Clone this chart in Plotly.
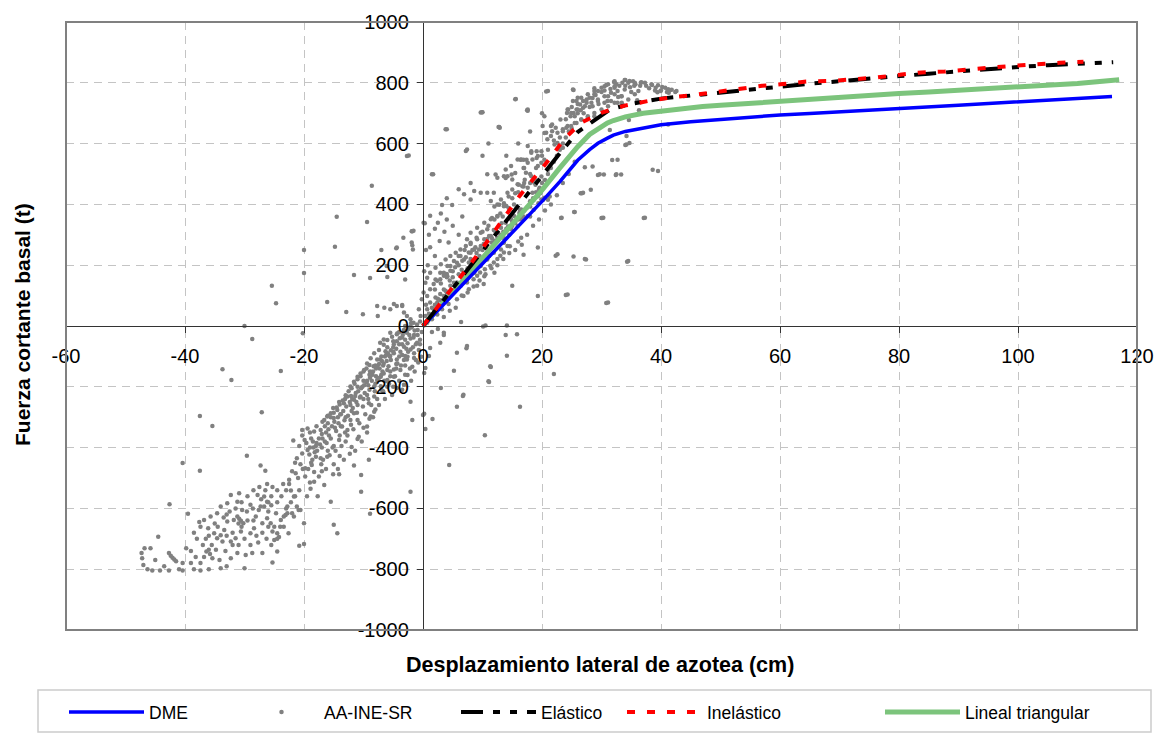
import plotly.graph_objects as go

# ---------------- data ----------------
dme_x = [0, 5, 10, 15, 20, 23, 26, 28, 29.4, 31, 32, 34, 37, 40, 45, 50, 55, 60, 65, 70, 75, 80, 85, 90, 95, 100, 105, 110, 115.8]
dme_y = [0, 102, 205, 308, 410, 475, 545, 580, 601, 618, 628, 640, 652, 662, 672, 680, 687, 694, 699, 704, 710, 716, 721, 726, 732, 738, 743, 748, 755]

lt_x = [0, 5, 10, 15, 20, 23, 26, 28, 29.4, 31, 32, 34, 37, 40, 45, 47, 50, 55, 60, 65, 70, 75, 80, 85, 90, 95, 100, 105, 110, 117]
lt_y = [0, 111, 222, 335, 447, 520, 590, 630, 650, 668, 676, 688, 700, 707, 716, 722, 726, 733, 740, 746, 752, 758, 765, 770, 775, 780, 785, 791, 798, 810]

el_x = [0, 5, 10, 15, 18.5, 20, 23, 26, 29.1, 31.4, 34.6, 38.3, 40, 45, 50, 55, 60, 65, 70, 75, 80, 85, 90, 95, 100, 105, 110, 116]
el_y = [0, 124, 248, 372, 458, 495, 568, 638, 680, 712, 729, 740, 748, 758, 768, 779, 788, 797, 805, 812, 822, 830, 838, 846, 852, 858, 863, 868]

in_x = [0, 5, 10, 16.2, 21.2, 23.7, 26.5, 30.2, 33.9, 37.8, 41.7, 45.6, 49.5, 53.1, 57, 60.5, 64.4, 68.6, 72.4, 76.1, 79.8, 83.8, 87.7, 91.5, 95.4, 99.3, 103.2, 107, 111]
in_y = [0, 128, 256, 427, 548, 614, 668, 703, 725, 740, 752, 760, 770, 782, 790, 796, 804, 806, 811, 817, 826, 834, 837, 842, 850, 856, 862, 866, 869]

aa_points = [
    (-47.3,-747),(-46.8,-731),(-47.2,-764),(-47.0,-786),(-46.3,-800),(-45.5,-804),(-44.2,-804),(-42.7,-804),(-40.4,-804),(-39.0,-780),
    (-40.4,-780),(-37.4,-804),(-37.4,-780),(-45.8,-731),(-44.5,-693),(-42.7,-747),(-42.4,-756),(-42.1,-762),(-41.8,-768),(-41.5,-774),
    (-39.8,-731),(-42.6,-586),(-39.5,-618),(-40.4,-451),(-37.5,-476),(-37.5,-296),(-35.4,-329),(-33.7,-142),(-32.2,-178),(-28.7,-43),
    (-30.0,0),(-27.1,-284),(-23.9,-148),(-20.2,-24),(-29.6,-427),(-27.3,-459),(-26.5,-476),
    (-34.0,-797),(-30.0,-797),(-27.0,-747),(-25.3,-778),(-24.5,-742),(-20.8,-723),(-20.0,-717),(-20.0,-649),(-21.7,-627),(-20.6,-605),
    (-21.7,-561),(-22.2,-541),(-22.5,-506),(-21.4,-484),(-22.0,-478),(-19.8,-495),(-19.8,-468),(-21.2,-435),(-20.3,-419),(-19.4,-408),
    (-19.1,-423),(-18.6,-440),(-18.0,-430),(-17.2,-435),(-18.7,-457),(-21.8,-377),(-20.3,-342),(-19.4,-337),(-18.3,-347),(-17.2,-342),
    (-16.6,-309),(-16.1,-298),(-15.5,-287),(-15.0,-303),(-14.4,-276),(-14.2,-320),(-13.6,-331),(-12.7,-342),(-12.2,-309),(-11.6,-287),
    (-11.0,-309),(-10.8,-364),(-9.4,-331),(-8.8,-298),(-8.2,-282),(-9.1,-254),(-8.2,-232),(-9.4,-227),(-10.5,-232),(-11.6,-243),
    (-12.2,-260),(-13.3,-254),(-12.7,-232),(-12.2,-199),(-11.6,-183),(-11.0,-167),(-10.5,-156),(-9.9,-145),(-9.4,-123),(-8.8,-106),
    (-8.2,-90),(-7.4,-79),(-6.6,-62),(-6.0,-46),(-5.2,-35),(-4.3,-24),(-3.2,-13),(-2.1,-2),
    (-7.7,-134),(-6.6,-123),(-5.4,-112),(-4.9,-90),(-3.8,-85),(-3.2,-68),(-2.6,-57),(-2.1,-41),(-1.5,-30),(-0.9,-13),(-6.0,-145),
    (-7.1,-167),(-7.7,-178),(-8.2,-199),(-6.6,-156),(-4.3,-123),(-3.2,-112),(-2.6,-101),(-1.5,-90),(-0.7,-79),(-3.8,-145),(-4.9,-167),
    (-6.0,-178),(-5.2,-227),(-2.1,-249),(-2.6,-161),(-1.8,-134),(-1.2,-112),(-0.3,-101),
    (-15.0,-654),(-14.4,-682),(-15.5,-578),(-11.6,-459),(-10.4,-490),(-10.4,-545),(-9.1,-440),(-2.1,-545),(0.0,-293),(-1.8,-309),
    (0.4,-339),(-15.1,-488),(-14.1,-488),(-18.3,-512),(-16.6,-523),(-18.9,-535),(-17.7,-560),
    (-18.5,-380),(-18.0,-395),(-17.5,-370),(-17.0,-355),(-16.5,-330),(-16.0,-320),(-15.5,-300),(-15.0,-285),(-14.5,-268),(-14.0,-258),
    (-13.5,-245),(-13.0,-228),(-12.5,-215),(-12.0,-205),(-11.5,-190),(-11.0,-175),(-10.5,-165),(-10.0,-150),(-9.5,-140),(-9.0,-128),
    (-8.0,-275),(-9.0,-305),(-10.0,-335),(-11.0,-372),(-12.0,-398),(-14.0,-428),(-15.0,-455),(-17.0,-478),(-19.0,-515),(-13.0,-380),
    (-14.0,-360),(-15.0,-395),(-16.0,-410),(-16.5,-380),(-13.0,-300),(-12.0,-280),(-11.0,-260),(-10.0,-240),(-9.0,-210),(-8.0,-190),
    (-7.0,-160),(-7.0,-210),(-6.0,-200),(-5.5,-150),(-4.5,-140),(-4.0,-100),(-3.5,-60),(-2.8,-75),(-5.0,-70),(-6.2,-95),(-7.2,-110),
    (-8.5,-160),(-9.5,-185),(-10.2,-200),(-11.3,-220),(-13.8,-290),(-14.8,-335),(-15.8,-360),(-17.8,-410),(-18.8,-450),(-20.2,-470),
    (-21.0,-500),(-19.5,-560),(-20.8,-540),
    (-19.0,-400),(-18.2,-415),(-17.0,-400),(-16.2,-385),(-15.5,-370),(-14.6,-345),(-13.8,-330),(-13.2,-310),(-12.6,-295),(-11.8,-270),
    (-11.2,-250),(-10.6,-235),(-9.8,-220),(-9.2,-195),(-8.6,-180),(-7.9,-165),(-7.3,-140),(-6.7,-130),(-6.1,-115),(-5.6,-100),
    (-5.0,-85),(-4.5,-75),(-4.0,-60),(-3.0,-45),(-2.3,-30),(-16.8,-440),(-15.7,-425),(-14.7,-410),(-13.7,-395),(-12.7,-360),
    (-11.7,-340),(-10.7,-320),(-9.7,-290),(-8.7,-260),(-7.7,-240),(-6.7,-215),(-5.7,-190),(-4.7,-165),(-3.7,-130),(-2.7,-110),(-1.7,-70),
    (-19.6,-385),(-18.8,-370),(-18.4,-400),(-17.9,-385),(-17.3,-390),(-16.9,-370),(-16.3,-350),(-15.9,-340),(-15.3,-330),(-14.9,-315),
    (-14.3,-300),(-13.9,-290),(-13.4,-280),(-12.9,-265),(-12.3,-250),(-11.9,-240),(-11.4,-230),(-10.9,-215),(-10.4,-205),(-9.9,-195),
    (-9.4,-180),(-8.9,-170),(-8.4,-150),(-7.9,-140),(-7.4,-125),(-6.9,-115),(-6.4,-100),(-5.9,-90),(-5.4,-80),(-4.9,-60),(-4.4,-50),
    (-3.9,-40),(-3.4,-30),(-2.9,-20),(-2.4,-10),(-1.9,-5),(-1.4,-15),(-0.9,-30),(-0.5,-45),(-1.2,-60),(-0.8,-120),(-1.4,-150),
    (-2.0,-180),(-3.0,-160),(-4.0,-180),(-3.5,-210),(-5.0,-200),(-6.4,-240),(-7.4,-260),(-8.4,-300),(-9.4,-350),(-10.3,-380),
    (-11.4,-410),(-12.3,-420),(-13.3,-440),(-14.3,-470),(-16.3,-470),(-17.5,-495),(-18.3,-480),(-19.3,-470),(-20.6,-455),(-21.5,-450),
    (-20.8,-395),(-19.9,-375),(-20.3,-360),(-19.0,-350),(-17.9,-330),(-16.9,-315),(-16.0,-295),(-15.1,-270),(-14.1,-250),(-13.1,-240),
    (-12.1,-230),(-11.0,-200),(-10.0,-180),(-9.0,-160),(-8.0,-130),(-7.0,-100),(-6.0,-70),(-5.0,-50),(-4.0,-20),(-3.0,0),(-2.0,10),
    (-1.0,5),(-0.5,15),(-8.1,-215),(-9.2,-240),(-10.1,-265),(-11.1,-285),(-12.1,-325),(-13.1,-350),(-14.1,-375),(-15.2,-400),
    (-16.1,-430),(-17.1,-455),(-6.5,-180),(-5.5,-165),(-4.5,-125),(-3.5,-95),(-2.5,-85),(-1.5,-105),(-2.2,-140),(-3.0,-130),(-0.5,-60),
    (-0.2,-20),
    (-26.7,-561),(-26.2,-578),(-25.5,-590),(-24.7,-616),(-23.9,-638),(-23.1,-622),(-23.4,-660),(-25.0,-660),(-24.5,-682),(-25.3,-676),
    (-25.0,-704),(-24.2,-694),(-26.2,-632),(-27.0,-649),(-27.8,-556),(-29.0,-588),(-29.6,-610),(-30.4,-605),(-31.2,-578),(-30.9,-550),
    (-32.3,-556),(-32.9,-583),(-34.0,-594),(-34.6,-616),(-35.7,-627),(-36.8,-638),(-37.4,-660),(-37.6,-645),(-36.1,-665),(-35.1,-682),
    (-34.6,-698),(-34.0,-688),(-33.4,-671),(-32.9,-643),(-31.8,-638),(-31.0,-650),(-30.6,-676),(-31.5,-698),(-32.3,-709),(-33.7,-709),
    (-34.8,-736),(-36.0,-736),(-36.4,-742),(-35.4,-764),(-32.3,-764),(-31.2,-747),(-29.8,-753),(-28.7,-747),(-29.0,-682),(-28.4,-665),
    (-28.1,-627),(-27.6,-605),(-27.3,-594),(-26.7,-594),(-26.0,-610),(-25.6,-649),(-24.5,-700),(-23.4,-627),(-22.8,-616),(-22.8,-594),
    (-22.0,-616),(-21.2,-594),(-20.9,-605),(-31.2,-627),(-30.9,-634),(-30.6,-641),(-30.2,-649),
    (-26.2,-520),(-25.3,-530),(-23.8,-560),(-23.0,-540),(-24.5,-580),(-28.5,-640),(-33.0,-620),(-35.0,-650),(-36.5,-700),(-33.2,-740),
    (-27.7,-712),(-26.3,-700),(-22.6,-682),
    (-38.0,-700),(-37.0,-720),(-36.0,-690),(-35.5,-720),(-34.5,-660),(-33.5,-630),(-32.5,-610),(-31.5,-600),(-30.5,-580),(-29.5,-560),
    (-28.5,-540),(-27.5,-530),(-26.5,-540),(-25.5,-560),(-24.5,-540),(-23.5,-520),(-22.5,-520),(-33.0,-690),(-32.0,-680),(-31.0,-720),
    (-30.0,-700),(-29.0,-720),(-28.0,-690),(-27.0,-680),(-26.0,-660),(-25.5,-720),(-24.0,-660),(-23.0,-600),(-22.2,-580),(-21.5,-560),
    (-36.8,-760),(-35.8,-750),(-34.2,-770),(-33.0,-790),(-32.0,-720),(-30.5,-660),(-29.5,-640),(-28.6,-600),(-27.2,-570),(-26.0,-580),
    (-38.5,-680),(-39.0,-740),(-38.2,-760),(-43.5,-790),(-45.0,-770),(-41.0,-800),(-38.5,-800),(-36.0,-800),
    (-25.4,132),(-24.7,75),(-20.0,250),(-20.0,174),(-16.1,79),(-14.8,261),(-14.5,359),(-11.6,168),(-12.9,46),(-10.1,39),(-9.4,342),
    (-8.6,461),(-8.9,158),(-7.0,250),(-6.0,161),(-7.6,33),(-4.5,256),(-3.5,69),(-2.7,559),(-1.8,312),(-1.8,266),(-1.9,312),(-1.7,252),
    (-4.4,258),(-3.3,290),(-3.0,153),(-6.1,197),(-7.7,66),(-6.5,60),(-5.5,55),(-4.9,72),(-4.4,66),(-3.5,66),(-3.2,44),(-2.7,33),
    (-2.1,22),(-1.6,11),(-0.4,33),(-0.7,55),(-0.2,88),(-1.6,313),(-1.9,275),(-3.5,-38),(-4.4,-27),(-5.5,-22),(-6.6,-44),(-7.2,-55),
    (-6.3,-83),(-5.5,-99),(-4.4,-110),(-3.0,-99),(-2.1,-77),(-1.0,-55),(-1.6,-38),(-2.7,-22),(-7.7,-110),(-8.3,-132),(-8.9,-150),
    (-7.4,-171),(-6.8,-150),(-5.8,-132),(-4.9,-143),(-6.0,-182),(-7.1,-198),(-4.4,-204),(-3.2,-193),
    (1.0,-99),(0.4,-138),(0.2,-155),(2.9,-55),(1.2,-72),(3.5,-22),(7.4,-66),(5.7,-88),(11.3,-132),(11.0,-182),(15.8,-27),(6.8,-226),
    (10.5,2),(14.1,2),
    (32.2,805),(33.9,809),(34.7,806),(35.6,800),(36.7,802),(38.4,795),(39.5,792),(40.7,784),(41.8,777),(42.6,773),(41.2,779),(32.2,789),
    (31.1,795),(30.0,784),(28.8,773),(27.7,762),(26.6,751),(25.8,740),(25.2,778),(24.3,712),(24.9,701),(26.0,712),(27.2,723),(28.3,734),
    (29.4,745),(30.5,756),(31.6,767),(32.7,773),(33.4,756),(34.5,745),(35.6,762),(36.2,773),(31.1,723),(32.2,734),(33.4,734),(30.0,712),
    (28.8,701),(27.7,690),(26.6,679),(25.5,668),(24.3,658),(23.5,647),(22.6,636),(21.5,625),(20.9,614),(22.1,597),(23.2,586),(20.7,636),
    (20.4,690),(21.5,658),(20.1,658),(21.0,773),(15.6,747),(17.6,712),(12.8,655),(10.0,703),(3.8,647),(-2.4,561),(1.5,499),(7.4,581),
    (17.6,592),(18.2,570),(18.4,548),(19.3,559),(19.3,526),(19.9,537),(17.6,537),(17.0,520),(16.5,548),(15.9,548),(14.8,526),(13.9,515),
    (13.6,493),(12.5,488),(10.8,499),(14.2,493),(15.0,482),(15.9,466),(16.7,460),(17.6,455),(18.4,438),(19.3,427),(19.9,416),(20.4,422),
    (19.6,455),(18.7,471),(18.2,493),(17.3,504),(15.0,449),(14.2,438),(13.1,416),(11.9,438),(10.8,438),(9.7,438),(8.6,444),(8.0,416),
    (6.9,433),(11.4,411),(12.5,400),(13.6,394),(15.3,400),(16.5,383),(12.5,362),(11.4,351),(10.3,340),(9.1,323),(8.0,307),(7.4,285),
    (7.2,263),(6.3,252),(5.5,241),(4.6,230),(3.8,219),(3.0,203),(2.1,192),(1.2,175),(0.7,159),(0.4,142),(3.5,175),(4.6,197),(5.7,208),
    (6.9,219),(8.0,241),(8.6,252),(9.7,263),(10.3,285),(11.4,296),(12.2,307),(13.1,323),(13.9,340),(14.8,351),(15.3,362),(16.2,372),
    (9.7,307),(10.8,318),(9.1,285),(8.0,274),(6.3,230),(5.2,214),(4.1,197),(2.9,175),(2.1,153),(0.1,110),(4.1,164),(5.2,142),(6.3,132),
    (7.4,153),(8.6,175),(9.7,197),(10.8,219),(11.9,241),(13.1,252),(14.2,263),(13.1,296),(9.1,219),(11.1,230),(8.0,197),(6.9,175),
    (10.3,164),(12.0,175),(13.6,274),(14.8,318),(15.9,329),(16.5,351),(17.6,362),(19.3,258),(22.6,236),(15.0,132),(19.3,99),(24.3,104),
    (27.4,219),(31.1,77),(34.5,214),(37.3,356),(39.5,510),(32.5,499),(29.7,499),(26.9,438),(25.5,375),(30.3,356),(23.3,356),(34.2,597),
    (34.2,625),(41.2,663),(39.4,769),(0.1,340),(0.3,338),(1.7,499),(4.0,647),(9.7,702),(15.5,746),(17.6,708),(7.2,576),(4.9,398),(12.9,652),
    (0.7,99),(1.2,121),(1.8,138),(2.4,149),(2.9,154),(3.5,165),(4.0,171),(4.6,182),(5.4,193),(6.0,200),(6.6,215),(7.2,226),(7.7,242),
    (8.3,250),(8.8,259),(9.4,252),(10.2,270),(10.8,286),(11.1,296),(7.7,209),(7.4,176),(6.8,154),(5.7,143),(4.6,132),(3.8,116),(2.9,105),
    (2.1,94),(1.2,77),(0.7,55),(0.4,33),(1.8,55),(2.4,77),(3.5,99),(4.6,110),(5.4,121),(6.3,132),(7.4,143),(8.5,154),(9.1,165),(9.6,176),
    (10.4,187),(11.3,198),(11.9,209),(12.5,220),(13.0,231),(13.6,242),(9.1,132),(10.2,138),(7.7,121),(6.8,99),(5.7,88),(4.3,72),(3.2,55),
    (2.4,38),(1.5,22),(0.7,11),(3.2,398),(1.2,363),(4.3,275),(1.2,259),(2.0,230),(0.8,200),(2.8,280),(5.0,330),(3.6,310),(2.5,340),
    (6.0,300),(4.0,350),(6.6,360),
    (9.9,703),(17.5,710),(12.7,655),(20.7,771),(23.1,679),(24.2,701),(24.8,690),(25.3,701),(25.8,712),(26.4,729),(26.9,718),(27.5,734),
    (28.5,723),(29.4,740),(30.5,734),(31.1,756),(31.6,740),(32.2,762),(32.7,734),(33.3,756),(33.9,778),(34.5,800),(35.3,805),(35.7,795),
    (37.3,800),(39.1,784),(39.9,773),(41.3,767),(29.4,773),(30.5,789),(32.2,784),(28.8,762),(28.0,751),(26.9,740),(26.0,751),(25.2,740),
    (24.4,712),(22.3,652),(21.7,641),(21.7,663),(20.4,635),(23.5,641),(24.1,652),(24.9,658),(25.8,668),(26.6,679),(27.7,685),(28.8,690),
    (22.6,602),(23.5,586),(19.9,575),(19.1,575),(19.1,553),(18.2,575),(17.4,547),(16.9,547),(16.4,547),(16.9,520),(15.5,503),(14.9,498),
    (13.9,487),(12.2,498),(20.4,547),(21.0,514),(19.9,492),(18.8,481),(18.9,465),(18.0,470),(17.1,481),(16.9,459),(16.1,465),(15.5,437),
    (14.4,426),(13.6,404),(12.8,399),(12.0,393),(19.7,437),(20.2,415),(21.0,415),(21.3,426),(19.4,404),(18.6,415),(18.0,393),(18.6,382),
    (18.0,360),(16.9,360),(16.3,382),(14.4,388),(13.4,360),(12.5,360),(11.6,355),(13.2,338),(14.3,327),(15.0,344),(11.9,316),(11.6,289),
    (13.6,289),(14.6,262),(16.0,278),(16.9,234),(16.6,267),(28.5,525),(28.2,448),(30.4,498),(33.3,498),(32.7,547),(34.7,602),(38.6,514),
    (23.2,355),(26.5,437),(30.0,355),(37.1,355),(22.3,231),(25.3,229),
    (25.3,776),(28.8,782),(30.8,793),(32.1,803),(34.0,809),(36.6,800),(38.5,793),(40.2,786),(41.5,776),(42.4,770),(32.8,753),(35.0,770),
    (36.0,743),(36.3,710),(34.6,678),(31.4,645),(34.0,595),(31.8,546),(27.2,522),(29.4,497),(32.4,497),(26.7,437),(25.4,375),(30.1,355),
    (27.2,220),(34.3,211),(24.0,102),(30.8,76),
    (1.0,40),(1.5,60),(2.0,70),(2.5,90),(3.0,85),(3.5,120),(4.0,110),(4.5,150),(5.0,160),(5.5,130),(6.0,170),(6.5,185),(7.0,160),
    (7.5,190),(8.0,220),(8.5,210),(9.0,240),(9.5,230),(10.0,250),(10.5,260),(11.0,250),(11.5,275),(12.0,280),(12.5,290),(13.0,300),
    (13.5,310),(14.0,320),(14.5,300),(15.0,330),(15.5,340),(16.0,350),(16.5,365),(17.0,380),(17.5,390),(18.0,410),(18.5,420),(19.0,440),
    (19.5,450),(20.0,470),(20.5,480),(21.0,500),(21.5,520),(22.0,540),(22.5,560),(23.0,580),(23.5,600),(24.0,620),(24.5,640),(25.0,650),
    (25.5,690),(26.0,700),(26.5,710),(27.0,700),(27.5,745),(28.0,720),(28.5,750),(29.0,760),(29.5,730),(30.0,770),(30.5,775),(31.0,740),
    (31.5,780),(32.5,795),(33.0,790),(33.5,800),(34.0,790),(34.8,785),(35.5,790),(36.5,790),(37.5,790),(38.0,782),(39.0,775),(40.0,775),
    (41.0,770),(2.0,120),(3.0,140),(4.0,160),(5.0,180),(6.0,230),(7.0,250),(8.0,270),(9.0,290),(10.0,310),(11.0,330),(12.0,350),
    (13.0,370),(14.0,395),(15.0,420),(16.0,440),(17.0,470),(18.0,500),(19.0,520),(20.0,560),(21.0,580),(22.0,610),(23.0,620),(24.0,680),
    (25.0,720),(26.0,730),(1.5,-20),(2.5,-10),(3.5,30),(4.5,50),(5.5,60),(6.5,100),(7.5,110),(8.5,130),(9.5,150),(10.5,170),(11.5,190),
    (12.5,200),(13.5,220),(14.5,240),(15.5,250),(16.5,290),(17.5,300),(18.5,330),(19.5,350),(20.5,380),(21.5,400),(22.5,430),(23.5,470),
    (24.5,500),(25.5,540),(0.5,70),(0.2,180),(0.5,250),(1.0,300),(2.0,320),(3.0,370),(4.0,420),(6.0,450),(8.0,470),(10.0,560),(11.0,600),
    (14.0,560),(16.0,600),(18.0,640),(20.0,700),
    (4.4,-457),(3.0,-204),(5.2,-147),(5.7,-266),(6.7,-230),(10.4,-359),(11.4,-135),(11.1,-184),(13.9,-30),(14.1,-98),(16.3,-266),
    (22.0,-158),(7.3,-73),(6.4,13),(3.5,-30),(10.1,-2),(1.6,-306),(0.2,-289),(-8.9,-618),
]
aa_x = [p[0] for p in aa_points]
aa_y = [p[1] for p in aa_points]

x_ticks = [-60, -40, -20, 0, 20, 40, 60, 80, 100, 120]
y_ticks = [-1000, -800, -600, -400, -200, 0, 200, 400, 600, 800, 1000]

# ---------------- figure ----------------
FONT = "Liberation Sans, Arial, sans-serif"
fig = go.Figure()

fig.add_trace(go.Scatter(x=aa_x, y=aa_y, mode="markers", name="AA-INE-SR", legendrank=2,
                         marker=dict(color="#808080", size=4.5, line=dict(width=0)), legendwidth=127))
fig.add_trace(go.Scatter(x=lt_x, y=lt_y, mode="lines", name="Lineal triangular", legendrank=5,
                         line=dict(color="#7cc47c", width=5), legendwidth=130))
fig.add_trace(go.Scatter(x=dme_x, y=dme_y, mode="lines", name="DME", legendrank=1,
                         line=dict(color="#0000ff", width=3.5), legendwidth=85))
fig.add_trace(go.Scatter(x=el_x, y=el_y, mode="lines", name="Elástico", legendrank=3,
                         line=dict(color="#000000", width=4, dash="22px,10px,7px,10px,7px,10px"), legendwidth=76))
fig.add_trace(go.Scatter(x=in_x, y=in_y, mode="lines", name="Inelástico", legendrank=4,
                         line=dict(color="#ff0000", width=4, dash="8px,12px"), legendwidth=168))

px0, px1, py0, py1 = 66, 1137, 22, 630
W, H = 1156, 734


def paper_x(px):
    return (px - px0) / (px1 - px0)


def paper_y(py):
    return (py1 - py) / (py1 - py0)


fig.update_layout(
    width=W, height=H,
    margin=dict(l=px0, r=W - px1, t=py0, b=H - py1, autoexpand=False),
    paper_bgcolor="white", plot_bgcolor="white",
    font=dict(family=FONT, color="black", size=20),
    showlegend=True,
    legend=dict(orientation="h", x=paper_x(64), xanchor="left", y=paper_y(712), yanchor="middle",
                font=dict(family=FONT, size=17.5, color="black"), itemwidth=75,
                bgcolor="rgba(0,0,0,0)", borderwidth=0, traceorder="normal"),
    xaxis=dict(range=[-60, 120], tickvals=x_ticks, ticktext=[str(v) for v in x_ticks],
               showgrid=True, gridcolor="#c4c4c4", griddash="8px,6px", gridwidth=1,
               zeroline=False, showline=True, linecolor="#333333", linewidth=1.3,
               anchor="free", position=0.5, ticks="outside", ticklen=6, tickcolor="#333333",
               tickfont=dict(family=FONT, size=20), ticklabelstandoff=6),
    yaxis=dict(range=[-1000, 1000], tickvals=y_ticks, ticktext=[str(v) for v in y_ticks],
               showgrid=True, gridcolor="#c4c4c4", griddash="8px,6px", gridwidth=1,
               zeroline=False, showline=True, linecolor="#333333", linewidth=1.3,
               anchor="free", position=paper_x(423), ticks="outside", ticklen=6, tickcolor="#333333",
               tickfont=dict(family=FONT, size=20), ticklabelstandoff=4),
    shapes=[
        dict(type="rect", xref="paper", yref="paper", x0=0, x1=1, y0=0, y1=1,
             line=dict(color="#808080", width=2), layer="above"),
        dict(type="rect", xref="paper", yref="paper", x0=paper_x(38), x1=paper_x(1151),
             y0=paper_y(732), y1=paper_y(690), line=dict(color="#cccccc", width=1.5)),
    ],
    annotations=[
        dict(text="<b>Desplazamiento lateral de azotea (cm)</b>", xref="paper", yref="paper",
             x=paper_x(600), y=paper_y(665), showarrow=False, xanchor="center", yanchor="middle",
             font=dict(family=FONT, size=21.5, color="black")),
        dict(text="<b>Fuerza cortante basal (t)</b>", xref="paper", yref="paper",
             x=paper_x(22), y=paper_y(325), showarrow=False, xanchor="center", yanchor="middle",
             textangle=-90, font=dict(family=FONT, size=21, color="black")),
    ],
)

fig.write_html("out.html", config={"displayModeBar": False},
               post_script="document.body.style.margin='0';document.body.style.overflow='hidden';")
